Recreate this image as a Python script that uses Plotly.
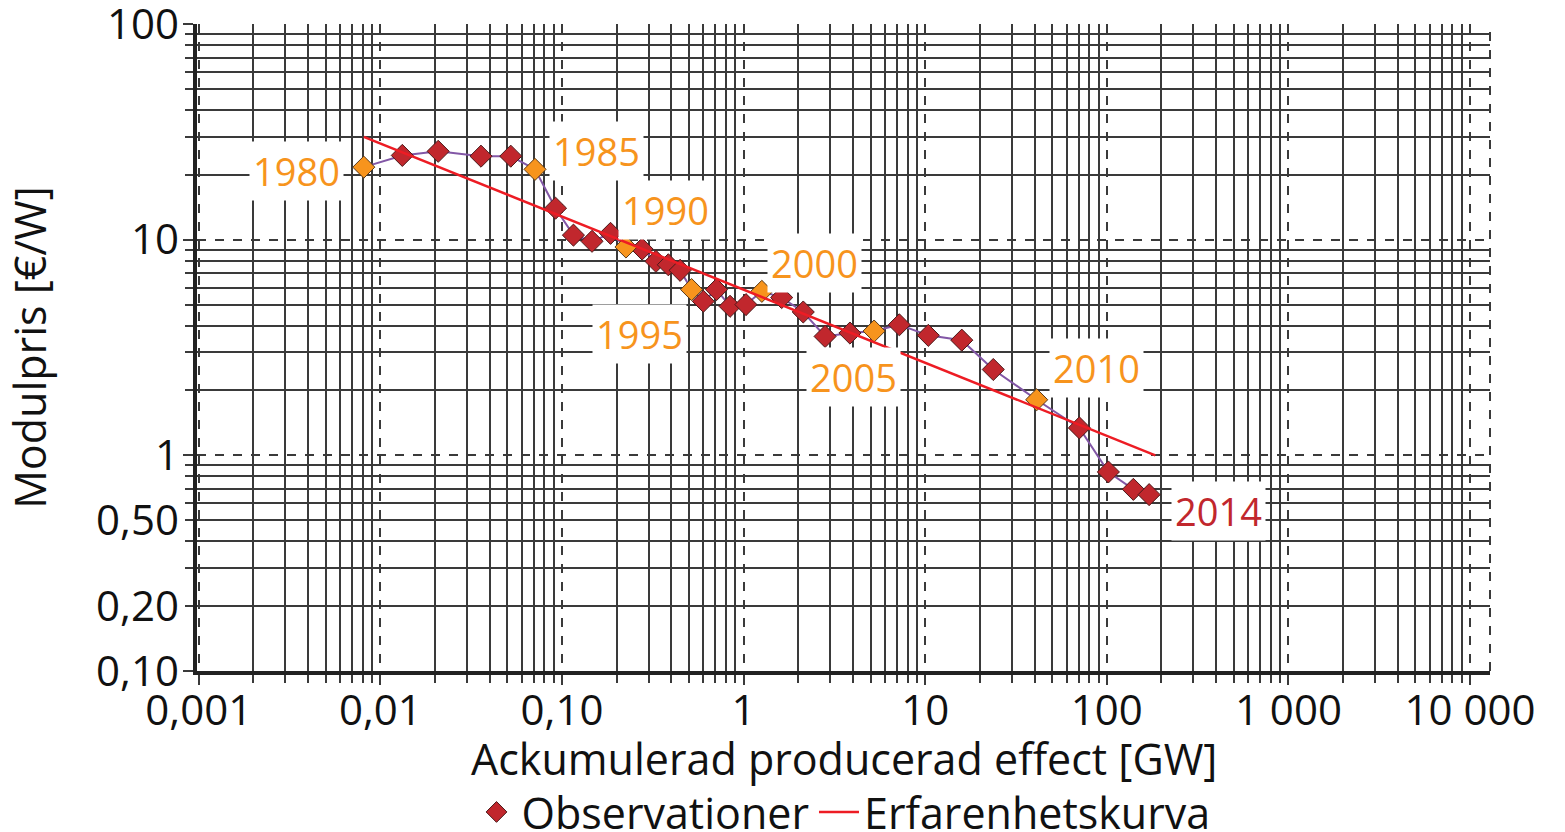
import numpy as np
import plotly.graph_objects as go

# ---- data ----
years = list(range(1980, 2015))
capacity_gw = [0.0081, 0.0132, 0.0208, 0.0358, 0.0522, 0.0710, 0.0921, 0.1156,
               0.1463, 0.185, 0.225, 0.276, 0.329, 0.385, 0.447, 0.517, 0.600,
               0.709, 0.842, 1.03, 1.26, 1.62, 2.13, 2.81, 3.85, 5.23, 7.20,
               10.4, 15.9, 23.7, 41.1, 70.6, 102, 140, 171]
price_eur_w = [21.7, 24.6, 25.7, 24.4, 24.4, 21.2, 14.0, 10.5, 9.83, 10.7,
               9.25, 9.05, 7.94, 7.65, 7.21, 5.87, 5.18, 5.87, 4.91, 5.00,
               5.76, 5.39, 4.62, 3.56, 3.69, 3.77, 4.03, 3.60, 3.42, 2.50,
               1.81, 1.34, 0.837, 0.695, 0.657]
milestone_years = [1980, 1985, 1990, 1995, 2000, 2005, 2010]
last_year = 2014

curve_x = [0.0081, 185]
curve_y = [30.0, 1.0]

x_title = "Ackumulerad producerad effect [GW]"
y_title = "Modulpris [€/W]"
x_tickvals = [0.001, 0.01, 0.1, 1, 10, 100, 1000, 10000]
x_ticktext = ["0,001", "0,01", "0,10", "1", "10", "100", "1 000", "10 000"]
y_tickvals = [0.1, 0.2, 0.5, 1, 10, 100]
y_ticktext = ["0,10", "0,20", "0,50", "1", "10", "100"]

# ---- styling ----
FONT = "Open Sans"
RED = "#C1272D"
ORANGE = "#F7941D"
PURPLE = "#8257A6"
CURVE = "#ED1C24"
GRID = "#3a3a3a"
TXT = "#111111"
W, H = 1565, 832
M = dict(l=197, r=75, t=24, b=161)

minor_vals = [d * 10.0 ** k for k in range(-4, 5) for d in range(2, 10)]

fig = go.Figure()

fig.add_trace(go.Scatter(x=capacity_gw, y=price_eur_w, mode="lines",
                         line=dict(color=PURPLE, width=2), showlegend=False,
                         hoverinfo="skip"))

red_x = [c for c, yr in zip(capacity_gw, years) if yr not in milestone_years]
red_y = [p for p, yr in zip(price_eur_w, years) if yr not in milestone_years]
org_x = [c for c, yr in zip(capacity_gw, years) if yr in milestone_years]
org_y = [p for p, yr in zip(price_eur_w, years) if yr in milestone_years]

fig.add_trace(go.Scatter(x=red_x, y=red_y, mode="markers", name="Observationer",
                         marker=dict(symbol="diamond", size=17, color=RED,
                                     line=dict(color="#4a1a1a", width=1))))
fig.add_trace(go.Scatter(x=org_x, y=org_y, mode="markers", showlegend=False,
                         marker=dict(symbol="diamond", size=17, color=ORANGE,
                                     line=dict(color="#5a3a1a", width=1))))
fig.add_trace(go.Scatter(x=curve_x, y=curve_y, mode="lines", name="Erfarenhetskurva",
                         line=dict(color=CURVE, width=2.5)))

# label offsets (pixels) relative to each labelled point
label_offsets = {1980: (-67, -4), 1985: (61, 18), 1990: (40, 37), 1995: (-52, -44),
                 2000: (53, 28), 2005: (-21, -46), 2010: (60, 32), 2014: (69, -16)}
for yr, (dx, dy) in label_offsets.items():
    i = years.index(yr)
    fig.add_annotation(x=np.log10(capacity_gw[i]), y=np.log10(price_eur_w[i]),
                       xref="x", yref="y", text=str(yr), showarrow=False,
                       xshift=dx, yshift=dy, bgcolor="white", borderpad=3,
                       font=dict(family=FONT, size=38,
                                 color=RED if yr == last_year else ORANGE))

# x-axis title, placed below the tick labels (pixel row 758 of the figure)
plot_h = H - M["t"] - M["b"]
fig.add_annotation(x=0.5, y=(H - M["b"] - 758) / plot_h, xref="paper", yref="paper",
                   text=x_title, showarrow=False, xanchor="center", yanchor="middle",
                   font=dict(family=FONT, size=43, color=TXT))

# dashed right border of plot area
fig.add_shape(type="line", xref="paper", yref="paper", x0=1, x1=1, y0=0, y1=1,
              line=dict(color=GRID, width=2, dash="dash"))

fig.update_layout(
    width=W, height=H,
    margin=dict(**M, autoexpand=False),
    paper_bgcolor="white", plot_bgcolor="white",
    font=dict(family=FONT, color=TXT),
    showlegend=True,
    legend=dict(orientation="h", x=0.5, xanchor="center",
                yref="container", y=1 - 812 / H, yanchor="middle",
                font=dict(family=FONT, size=43, color=TXT),
                itemwidth=40, tracegroupgap=0, bgcolor="rgba(0,0,0,0)"),
    xaxis=dict(type="log", range=[-3.01, 4.11],
               tickmode="array", tickvals=x_tickvals, ticktext=x_ticktext,
               tickfont=dict(family=FONT, size=42, color=TXT),
               ticklabelstandoff=-10,
               showgrid=True, gridcolor=GRID, gridwidth=2, griddash="dash",
               ticks="outside", ticklen=10, tickcolor=GRID, tickwidth=2,
               showline=True, linecolor="#222222", linewidth=4,
               zeroline=False,
               minor=dict(tickmode="array", tickvals=minor_vals, showgrid=True,
                          gridcolor=GRID, gridwidth=2, griddash="solid",
                          ticks="outside", ticklen=8, tickcolor=GRID, tickwidth=2)),
    yaxis=dict(type="log", range=[-1.0005, 2.0005],
               tickmode="array", tickvals=[0.1, 1, 10, 100],
               showticklabels=False,
               showgrid=True, gridcolor=GRID, gridwidth=2, griddash="dash",
               ticks="outside", ticklen=10, tickcolor=GRID, tickwidth=2,
               showline=True, linecolor="#222222", linewidth=4,
               zeroline=False,
               minor=dict(tickmode="array", tickvals=minor_vals, showgrid=True,
                          gridcolor=GRID, gridwidth=2, griddash="solid",
                          ticks="outside", ticklen=8, tickcolor=GRID, tickwidth=2)),
    yaxis2=dict(type="log", range=[-1.0005, 2.0005], overlaying="y", side="left",
                tickmode="array", tickvals=y_tickvals, ticktext=y_ticktext,
                tickfont=dict(family=FONT, size=42, color=TXT),
                ticklabeloverflow="allow",
                showgrid=False, showline=False, zeroline=False, ticks="",
                ticklabelstandoff=17,
                title=dict(text=y_title,
                           font=dict(family=FONT, size=43, color=TXT),
                           standoff=38)),
)
# attach an invisible trace to yaxis2 so it renders
fig.add_trace(go.Scatter(x=[curve_x[0]], y=[curve_y[0]], yaxis="y2", mode="markers",
                         marker=dict(opacity=0), showlegend=False, hoverinfo="skip"))

fig.write_html("out.html")
